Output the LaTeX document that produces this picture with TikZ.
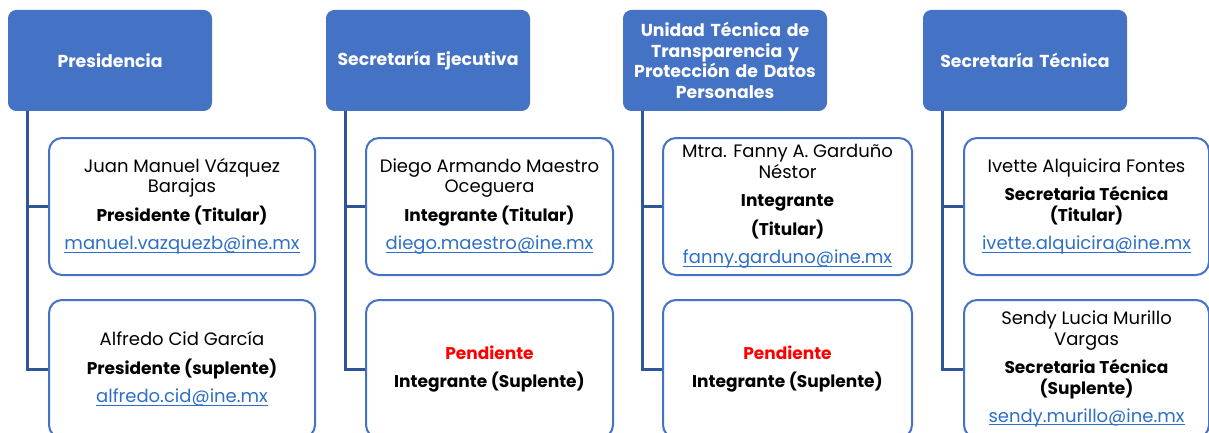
\documentclass[tikz,border=0pt]{standalone}
\usepackage{fontspec}
\setmainfont{Poppins}
\usetikzlibrary{calc}
\definecolor{hdrblue}{HTML}{4472C4}
\definecolor{lineblue}{HTML}{2F5597}
\definecolor{linkblue}{HTML}{2E6FC7}
\definecolor{pendred}{HTML}{FF0000}
\newcommand\lnk[1]{\textcolor{linkblue}{\setbox0=\hbox{#1}\rlap{\rule[-2.8pt]{\wd0}{0.9pt}}\box0}}
\newcommand\bt[1]{{\fontsize{17}{20.5}\selectfont\bfseries #1}}
\newcommand\pend{\textcolor{pendred}{\bt{Pendiente}}}
\begin{document}
\begin{tikzpicture}[x=1pt,y=-1pt,
  hdr/.style={draw=hdrblue, fill=hdrblue, rounded corners=8pt, line width=1pt, text=white,
    font=\bfseries\fontsize{17.3}{20.5}\selectfont, align=center, text width=199pt,
    minimum width=203pt, minimum height=100pt, inner sep=0pt, anchor=north west},
  member/.style={draw=hdrblue, fill=white, rounded corners=13pt, line width=2pt,
    align=center, font=\fontsize{18}{20.5}\selectfont, inner sep=0pt, anchor=north west},
  conn/.style={draw=lineblue, line width=3pt}
]
\useasboundingbox (0,0) rectangle (1209,433);
\fill[white] (0,0) rectangle (1209,433);

% headers
\node[hdr] (H1) at (8,10) {Presidencia};
\node[hdr] (H2) at (326,10) {Secretaría Ejecutiva};
\node[hdr] (H3) at (623,10) {Unidad Técnica de\\Transparencia y\\Protección de Datos\\Personales};
\node[hdr] (H4) at (923,10) {Secretaría Técnica};

% column 1
\node[member, minimum width=266pt, minimum height=137pt] (A1) at (48,137)
  {Juan Manuel Vázquez\\Barajas\\[8pt]\bt{Presidente (Titular)}\\[8pt]\lnk{manuel.vazquezb@ine.mx}};
\node[member, minimum width=266pt, minimum height=138pt] (A2) at (48,299)
  {Alfredo Cid García\\[8pt]\bt{Presidente (suplente)}\\[8pt]\lnk{alfredo.cid@ine.mx}};

% column 2
\node[member, minimum width=247pt, minimum height=137pt] (B1) at (365,137)
  {Diego Armando Maestro\\Oceguera\\[8pt]\bt{Integrante (Titular)}\\[8pt]\lnk{diego.maestro@ine.mx}};
\node[member, minimum width=247pt, minimum height=138pt] (B2) at (365,299)
  {\pend\\[8pt]\bt{Integrante (Suplente)}};

% column 3
\node[member, minimum width=249pt, minimum height=137pt] (C1) at (662,137)
  {Mtra. Fanny A. Garduño\\Néstor\\[8pt]\bt{Integrante}\\[8pt]\bt{(Titular)}\\[8pt]\lnk{fanny.garduno@ine.mx}};
\node[member, minimum width=249pt, minimum height=138pt] (C2) at (662,299)
  {\pend\\[8pt]\bt{Integrante (Suplente)}};

% column 4
\node[member, minimum width=245pt, minimum height=137pt] (D1) at (963,137)
  {Ivette Alquicira Fontes\\[8pt]\bt{Secretaria Técnica}\\\bt{(Titular)}\\[8pt]\lnk{ivette.alquicira@ine.mx}};
\node[member, minimum width=245pt, minimum height=138pt] (D2) at (963,299)
  {Sendy Lucia Murillo\\Vargas\\[8pt]\bt{Secretaria Técnica}\\\bt{(Suplente)}\\[8pt]\lnk{sendy.murillo@ine.mx}};

% connectors
\foreach \h/\a/\b in {H1/A1/A2, H2/B1/B2, H3/C1/C2, H4/D1/D2}{
  \coordinate (\h top) at ($(\h.south west)+(19.5,0)$);
  \draw[conn] (\h top) |- (\a.west);
  \draw[conn] (\h top) |- (\b.west);
}
\end{tikzpicture}
\end{document}
